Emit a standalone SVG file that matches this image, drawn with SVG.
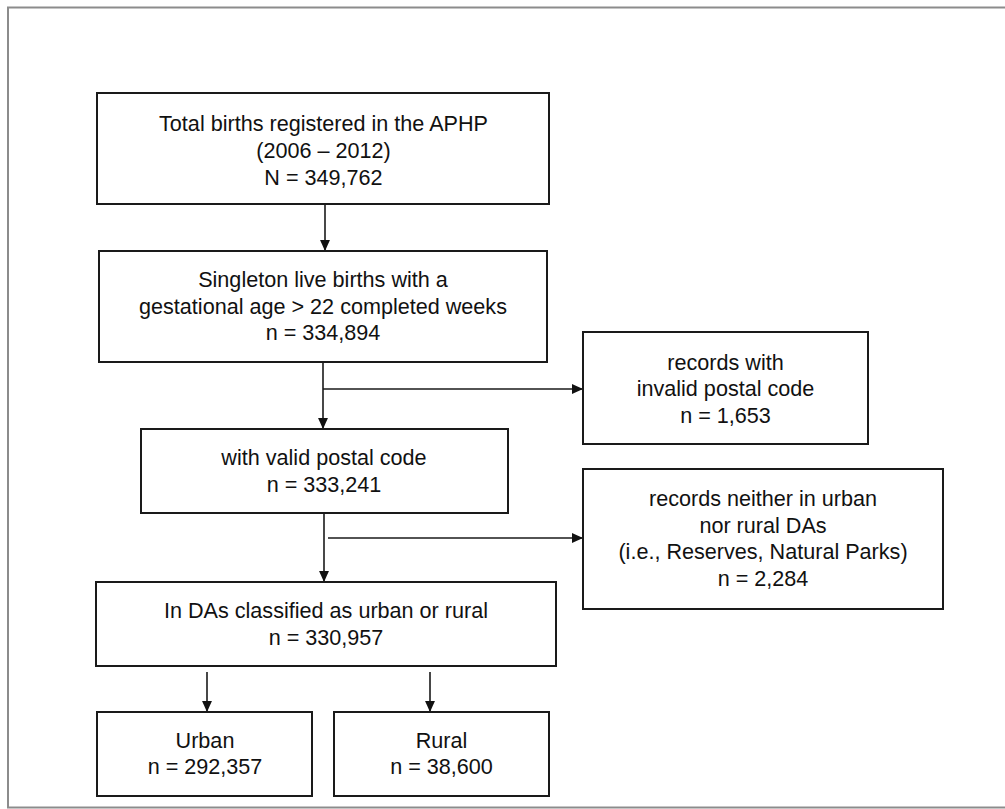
<svg xmlns="http://www.w3.org/2000/svg" width="1005" height="809" viewBox="0 0 1005 809">
<style>
.box{fill:#fff;stroke:#1a1a1a;stroke-width:2}
.t{font-family:"Liberation Sans",Arial,sans-serif;font-size:21.6px;fill:#111;text-anchor:middle}
.c{stroke:#1a1a1a;stroke-width:1.6;fill:none}
</style>
<defs>
<marker id="ah" viewBox="0 0 10 10" refX="10" refY="5" markerWidth="11" markerHeight="11" markerUnits="userSpaceOnUse" orient="auto">
<path d="M0,0.5 L10,5 L0,9.5 z" fill="#111"/>
</marker>
</defs>
<rect x="0" y="0" width="1005" height="809" fill="#fff"/>
<rect x="8" y="7.5" width="1010" height="800" fill="none" stroke="#8c8c8c" stroke-width="2"/>
<g id="connectors">
<line class="c" x1="325" y1="204" x2="325" y2="251" marker-end="url(#ah)"/>
<line class="c" x1="323" y1="362" x2="323" y2="429" marker-end="url(#ah)"/>
<line class="c" x1="323" y1="389" x2="583" y2="389" marker-end="url(#ah)"/>
<line class="c" x1="324" y1="513" x2="324" y2="582" marker-end="url(#ah)"/>
<line class="c" x1="328" y1="538" x2="583" y2="538" marker-end="url(#ah)"/>
<line class="c" x1="207" y1="672" x2="207" y2="712" marker-end="url(#ah)"/>
<line class="c" x1="430" y1="672" x2="430" y2="712" marker-end="url(#ah)"/>
</g>
<g id="total">
<rect class="box" x="97" y="93" width="452" height="111"/>
<text class="t" x="323.5" y="131">Total births registered in the APHP</text>
<text class="t" x="323.5" y="158">(2006 – 2012)</text>
<text class="t" x="323.5" y="185">N = 349,762</text>
</g>
<g id="singleton">
<rect class="box" x="99" y="251" width="448" height="111"/>
<text class="t" x="323" y="287">Singleton live births with a</text>
<text class="t" x="323" y="313.5">gestational age &gt; 22 completed weeks</text>
<text class="t" x="323" y="340">n = 334,894</text>
</g>
<g id="invalid">
<rect class="box" x="583" y="332" width="285" height="112"/>
<text class="t" x="725.5" y="369.5">records with</text>
<text class="t" x="725.5" y="396">invalid postal code</text>
<text class="t" x="725.5" y="422.5">n = 1,653</text>
</g>
<g id="valid">
<rect class="box" x="141" y="429" width="367" height="84"/>
<text class="t" x="324" y="465">with valid postal code</text>
<text class="t" x="324" y="492">n = 333,241</text>
</g>
<g id="neither">
<rect class="box" x="583" y="469" width="360" height="140"/>
<text class="t" x="763" y="506">records neither in urban</text>
<text class="t" x="763" y="532.7">nor rural DAs</text>
<text class="t" x="763" y="559.3">(i.e., Reserves, Natural Parks)</text>
<text class="t" x="763" y="586">n = 2,284</text>
</g>
<g id="classified">
<rect class="box" x="96" y="582" width="460" height="84"/>
<text class="t" x="326" y="618">In DAs classified as urban or rural</text>
<text class="t" x="326" y="644.5">n = 330,957</text>
</g>
<g id="urban">
<rect class="box" x="97" y="712" width="215" height="84"/>
<text class="t" x="205" y="748">Urban</text>
<text class="t" x="205" y="774">n = 292,357</text>
</g>
<g id="rural">
<rect class="box" x="334" y="712" width="215" height="84"/>
<text class="t" x="441.5" y="748">Rural</text>
<text class="t" x="441.5" y="774">n = 38,600</text>
</g>
</svg>
